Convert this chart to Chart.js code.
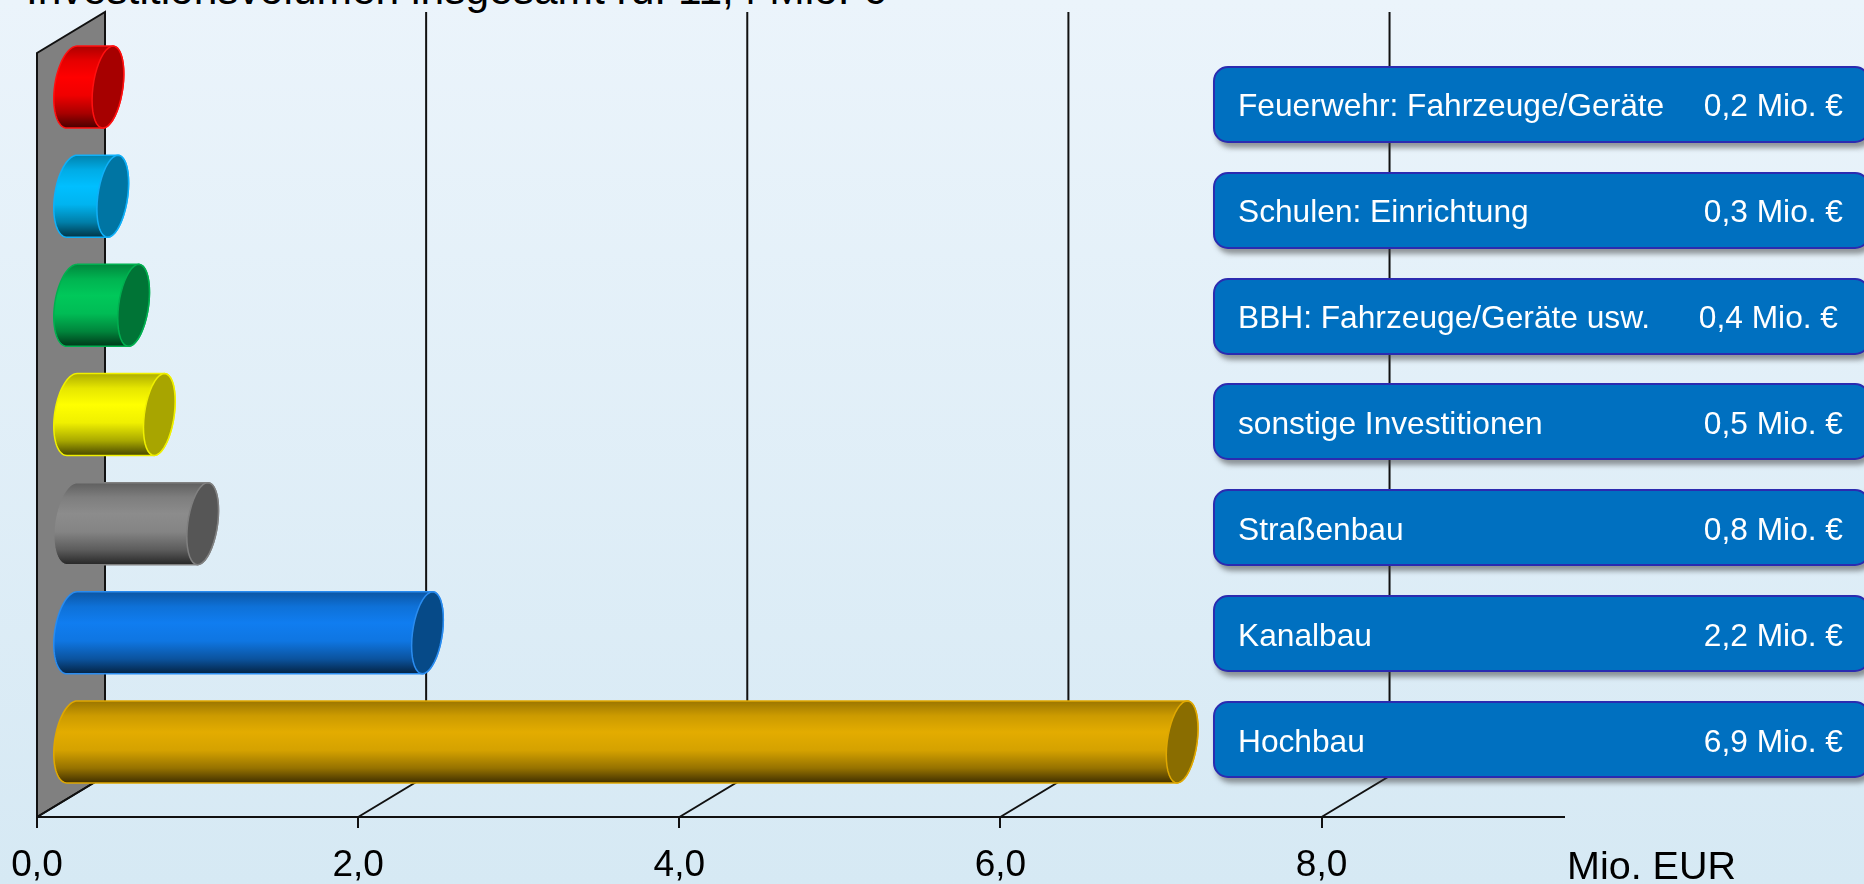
<!DOCTYPE html>
<html lang="de">
<head>
<meta charset="utf-8">
<title>Investitionsvolumen</title>
<script src="https://cdn.jsdelivr.net/npm/chart.js@4"></script>
<style>
    html, body { margin: 0; padding: 0; }
    body {
        width: 1864px; height: 884px; overflow: hidden; position: relative;
        background: linear-gradient(180deg, #ebf4fb 0%, #d6e9f4 100%);
        font-family: "Liberation Sans", Arial, sans-serif;
    }
    #wrap { position: absolute; left: 0; top: 0; width: 1864px; height: 884px; }
    #titel { position: absolute; left: 26px; top: -34px; font-size: 42.5px; line-height: 48px; white-space: nowrap; color: #000; }
    #einheit { position: absolute; left: 1567px; top: 843px; font-size: 39.5px; line-height: 45px; white-space: nowrap; color: #000; }
    .box {
        position: absolute; left: 1213px; width: 657px; height: 77px; box-sizing: border-box;
        background: #0070c0; border: 2px solid #2b2bb0; border-radius: 15px;
        box-shadow: 3px 5px 5px rgba(60, 60, 60, 0.5);
        color: #fff; font-size: 31.7px; white-space: nowrap;
    }
    .box span { position: absolute; top: 50%; transform: translateY(-50%); margin-top: 1px; }
    .box .name { left: 23px; }
    .box .wert { right: 25px; }
    .box .wert.schmal { right: 30px; }
</style>
</head>
<body>
<div id="titel">Investitionsvolumen insgesamt rd. 11,4 Mio. €</div>
<div id="wrap"><canvas id="chart-invest"></canvas></div>
<div id="boxen"></div>
<div id="einheit">Mio. EUR</div>
<script>
const categories = ['Feuerwehr: Fahrzeuge/Geräte', 'Schulen: Einrichtung', 'BBH: Fahrzeuge/Geräte usw.', 'sonstige Investitionen', 'Straßenbau', 'Kanalbau', 'Hochbau'];
const values = [0.23, 0.26, 0.39, 0.55, 0.82, 2.22, 6.92];
const valueLabels = ['0,2 Mio. €', '0,3 Mio. €', '0,4 Mio. €', '0,5 Mio. €', '0,8 Mio. €', '2,2 Mio. €', '6,9 Mio. €'];
const tickValues = [0, 2, 4, 6, 8];
const bodyColors = ['#ff0000', '#00bfff', '#00c85a', '#ffff00', '#8c8c8c', '#107df0', '#e3ac00'];
const capColors = ['#a60000', '#0075a3', '#007436', '#a8a500', '#565656', '#064a88', '#8a6d00'];
const edgeColors = ['#ff1010', '#10b0f8', '#00b050', '#f0f000', '#808080', '#2a8cf0', '#e0a800'];

// 3D-Tiefe des Diagramms
const DEPTH_X = 68;
const DEPTH_Y = 41;
const CAP_RX = 15;
const BACK_RX = 17.5;
const CAP_SKEW = 0.125;

function shade(hex, f) {
    const n = parseInt(hex.slice(1), 16);
    const r = Math.round(((n >> 16) & 255) * f);
    const g = Math.round(((n >> 8) & 255) * f);
    const b = Math.round((n & 255) * f);
    return `rgb(${r}, ${g}, ${b})`;
}

function traceArc(ctx, cx, cy, rx, ry, from, to) {
    for (let i = 0; i <= 40; i++) {
        const t = from + (to - from) * i / 40;
        ctx.lineTo(cx + rx * Math.cos(t) - CAP_SKEW * ry * Math.sin(t), cy + ry * Math.sin(t));
    }
}

function drawCylinder(ctx, el, i) {
    const cy = el.y - DEPTH_Y / 2;
    const ry = el.height / 2;
    const x0 = el.base + DEPTH_X / 2;
    const x1 = el.x + DEPTH_X / 2;
    const base = bodyColors[i];

    const grad = ctx.createLinearGradient(0, cy - ry, 0, cy + ry);
    grad.addColorStop(0, shade(base, 0.68));
    grad.addColorStop(0.18, shade(base, 0.9));
    grad.addColorStop(0.38, shade(base, 1));
    grad.addColorStop(0.6, shade(base, 0.94));
    grad.addColorStop(0.82, shade(base, 0.66));
    grad.addColorStop(1, shade(base, 0.28));

    // Mantel: linke Rundung, dann rechte Seite
    ctx.beginPath();
    traceArc(ctx, x0, cy, BACK_RX, ry, -Math.PI / 2, -Math.PI * 1.5);
    traceArc(ctx, x1, cy, CAP_RX, ry, Math.PI / 2, -Math.PI / 2);
    ctx.closePath();
    ctx.fillStyle = grad;
    ctx.fill();
    ctx.strokeStyle = edgeColors[i];
    ctx.lineWidth = 1.5;
    ctx.stroke();

    // Deckel
    ctx.beginPath();
    traceArc(ctx, x1, cy, CAP_RX, ry, 0, Math.PI * 2);
    ctx.closePath();
    ctx.fillStyle = capColors[i];
    ctx.fill();
    ctx.stroke();
}

const room3d = {
    id: 'room3d',
    beforeDatasetsDraw(chart) {
        const ctx = chart.ctx;
        const area = chart.chartArea;
        const xScale = chart.scales.x;

        ctx.save();
        // graue Rueckwand links
        ctx.beginPath();
        ctx.moveTo(area.left, area.bottom);
        ctx.lineTo(area.left, area.top);
        ctx.lineTo(area.left + DEPTH_X, area.top - DEPTH_Y);
        ctx.lineTo(area.left + DEPTH_X, area.bottom - DEPTH_Y);
        ctx.closePath();
        ctx.fillStyle = '#808080';
        ctx.fill();
        ctx.strokeStyle = '#111111';
        ctx.lineWidth = 2;
        ctx.stroke();

        tickValues.forEach(v => {
            const px = xScale.getPixelForValue(v);
            ctx.beginPath();
            ctx.moveTo(px, area.bottom);
            ctx.lineTo(px + DEPTH_X, area.bottom - DEPTH_Y);
            ctx.lineTo(px + DEPTH_X, area.top - DEPTH_Y);
            ctx.stroke();
        });
        ctx.restore();
    },
    // Balken als Zylinder statt Rechteck
    beforeDatasetDraw(chart, args) {
        const ctx = chart.ctx;
        ctx.save();
        args.meta.data.forEach((el, i) => drawCylinder(ctx, el, i));
        ctx.restore();
        return false;
    }
};

new Chart(document.getElementById('chart-invest'), {
    type: 'bar',
    data: {
        labels: categories,
        datasets: [{
            label: 'Mio. EUR',
            data: values,
            backgroundColor: bodyColors,
            barPercentage: 0.751,
            categoryPercentage: 1
        }]
    },
    options: {
        indexAxis: 'y',
        responsive: true,
        maintainAspectRatio: false,
        animation: false,
        layout: { padding: { left: 37, top: 53, right: 300, bottom: 0 } },
        plugins: { legend: { display: false }, tooltip: { enabled: false } },
        scales: {
            x: {
                type: 'linear',
                min: 0,
                max: 9.51,
                afterFit(scale) {
                    scale.height = 67;
                    scale.paddingLeft = 0;
                    scale.paddingRight = 0;
                },
                afterBuildTicks(scale) { scale.ticks = tickValues.map(v => ({ value: v })); },
                border: { color: '#111111', width: 2 },
                grid: { drawOnChartArea: false, drawTicks: true, tickLength: 11, color: '#111111', lineWidth: 2 },
                ticks: {
                    color: '#000000',
                    padding: 16,
                    maxRotation: 0,
                    font: { family: '"Liberation Sans", Arial, sans-serif', size: 37 },
                    callback: v => v.toFixed(1).replace('.', ',')
                }
            },
            y: { display: false }
        }
    },
    plugins: [room3d]
});

// Legendenkaesten rechts
document.getElementById('boxen').innerHTML = categories.map((name, i) => `
    <div class="box" style="top:${65.7 + 105.9 * i}px">
        <span class="name">${name}</span>
        <span class="wert${i === 2 ? ' schmal' : ''}">${valueLabels[i]}</span>
    </div>
`).join('');
</script>
</body>
</html>
